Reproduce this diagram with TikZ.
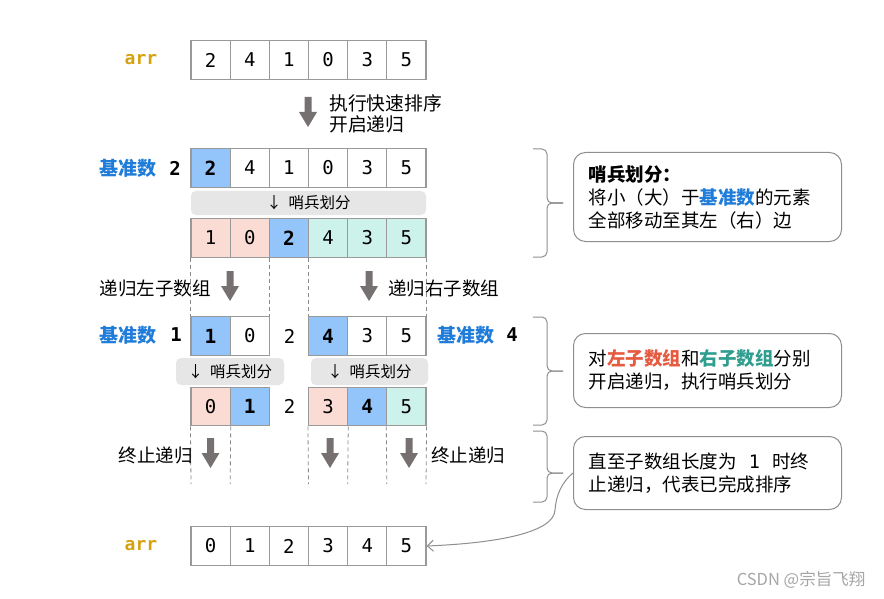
\documentclass[tikz,border=0pt]{standalone}
\usepackage{fontspec}
\setmainfont{Noto Sans CJK SC}
\newfontfamily\monof{DejaVu Sans Mono}
\usetikzlibrary{arrows.meta}
\definecolor{cellgray}{HTML}{999999}
\definecolor{cblue}{HTML}{94C5FA}
\definecolor{cpink}{HTML}{FADCD5}
\definecolor{cteal}{HTML}{CDF1EB}
\definecolor{barg}{HTML}{E6E6E6}
\definecolor{tblue}{HTML}{1F7CD9}
\definecolor{tgold}{HTML}{D5A10F}
\definecolor{tred}{HTML}{E65A40}
\definecolor{tteal}{HTML}{2F9E8F}
\definecolor{agray}{HTML}{767170}
\definecolor{boxg}{HTML}{8F8F8F}
\definecolor{dashg}{HTML}{8A8A8A}
\tikzset{
  cell/.style={draw=cellgray, line width=1.1pt, minimum width=39.17pt, minimum height=38.5pt, inner sep=0pt, anchor=center, font=\monof\fontsize{19}{21}\selectfont},
  pv/.style={cell, fill=cblue, font=\monof\bfseries\fontsize{19.5}{21}\selectfont},
  lo/.style={cell, fill=cpink},
  hi/.style={cell, fill=cteal},
  plain/.style={inner sep=0pt, font=\monof\fontsize{19}{21}\selectfont},
  bar/.style={fill=barg, rounded corners=5pt, inner sep=0pt, font=\fontsize{15.5}{18}\selectfont},
  arrlabel/.style={inner sep=0pt, text=tgold, font=\monof\bfseries\fontsize{18}{20}\selectfont},
  pivlabel/.style={inner sep=0pt, text=tblue, font=\bfseries\fontsize{19}{22}\selectfont},
  pivnum/.style={inner sep=0pt, font=\monof\bfseries\fontsize{19}{21}\selectfont},
  lab/.style={inner sep=0pt, font=\fontsize{18.5}{22}\selectfont},
  dashline/.style={draw=dashg, line width=0.8pt, dash pattern=on 4pt off 3pt},
  brace/.style={draw=boxg, line width=1pt, rounded corners=5pt},
  note/.style={draw=boxg, line width=1pt, rounded corners=12pt, anchor=north west, inner xsep=15pt, inner ysep=0pt, text width=238pt, align=left, font=\fontsize{18.5}{23}\selectfont},
  fatdown/.pic={\fill[agray] (-3.5,-15) -- (3.5,-15) -- (3.5,0) -- (9,0) -- (0,15) -- (-9,0) -- (-3.5,0) -- cycle;}
}
\begin{document}
\begin{tikzpicture}[x=1pt,y=-1pt]
\useasboundingbox (0,0) rectangle (884,599);
\fill[white] (0,0) rectangle (884,599);
% row 1
\node[arrlabel] (arr1) at (141,60) {arr};
\foreach \v [count=\i] in {2,4,1,0,3,5}
  \node[cell] (a\i) at ({191+39.17*(\i-0.5)},60) {\v};
% top arrow
\pic (topar) at (308,112) {fatdown};
\node[lab, anchor=west, align=left, font=\fontsize{18.8}{21.5}\selectfont] (t1) at (329,114) {执行快速排序\\开启递归};
% row 2
\node[pivlabel] (pl2) at (128,168) {基准数};
\node[pivnum] (pn2) at (175,168) {2};
\node[pv] (b1) at ({191+39.17*0.5},168) {2};
\foreach \v [count=\i from 2] in {4,1,0,3,5}
  \node[cell] (b\i) at ({191+39.17*(\i-0.5)},168) {\v};
\node[bar, minimum width=235pt, minimum height=24pt] (bar1) at (308.5,203) {↓\ \ 哨兵划分};
% row 3
\node[lo] (c1) at ({191+39.17*0.5},238) {1};
\node[lo] (c2) at ({191+39.17*1.5},238) {0};
\node[pv] (c3) at ({191+39.17*2.5},238) {2};
\node[hi] (c4) at ({191+39.17*3.5},238) {4};
\node[hi] (c5) at ({191+39.17*4.5},238) {3};
\node[hi] (c6) at ({191+39.17*5.5},238) {5};
% row 4
\node[pv] (d1) at ({191+39.17*0.5},336) {1};
\node[cell] (d2) at ({191+39.17*1.5},336) {0};
\node[plain] (d3) at (289.5,336) {2};
\node[pv] (d4) at ({191+39.17*3.5},336) {4};
\node[cell] (d5) at ({191+39.17*4.5},336) {3};
\node[cell] (d6) at ({191+39.17*5.5},336) {5};
\node[pivlabel] (pl4) at (128,335) {基准数};
\node[pivnum] (pn4) at (176,335) {1};
\node[pivlabel] (pl4r) at (466,335) {基准数};
\node[pivnum] (pn4r) at (512,335) {4};
% dashed lines row3 -> row4
\draw[dashline] (c1.south west) -- (d1.north west);
\draw[dashline] (c2.south east) -- (d2.north east);
\draw[dashline] (c4.south west) -- (d4.north west);
\draw[dashline] (c6.south east) -- (d6.north east);
% arrows between
\pic (lar) at (230,286) {fatdown};
\pic (rar) at (369,286) {fatdown};
\node[lab, anchor=east] (lrec) at (211,288) {递归左子数组};
\node[lab, anchor=west] (rrec) at (388,288) {递归右子数组};
% bars row 4
\node[bar, minimum width=108pt, minimum height=27pt] (bar2) at (230,371.5) {↓\ \ 哨兵划分};
\node[bar, minimum width=117pt, minimum height=27pt] (bar3) at (369.5,371.5) {↓\ \ 哨兵划分};
% row 5
\node[lo] (e1) at ({191+39.17*0.5},406.5) {0};
\node[pv] (e2) at ({191+39.17*1.5},406.5) {1};
\node[plain] (e3) at (289.5,406.5) {2};
\node[lo] (e4) at ({191+39.17*3.5},406.5) {3};
\node[pv] (e5) at ({191+39.17*4.5},406.5) {4};
\node[hi] (e6) at ({191+39.17*5.5},406.5) {5};
% dashed lines below row 5
\coordinate (f1) at (191,484);
\coordinate (f2) at (230.17,484);
\coordinate (f3) at (308.51,484);
\coordinate (f4) at (347.68,484);
\coordinate (f5) at (386.85,484);
\coordinate (f6) at (426.02,484);
\draw[dashline] (e1.south west) -- (f1);
\draw[dashline] (e1.south east) -- (f2);
\draw[dashline] (e4.south west) -- (f3);
\draw[dashline] (e4.south east) -- (f4);
\draw[dashline] (e6.south west) -- (f5);
\draw[dashline] (e6.south east) -- (f6);
\pic (s1) at (210.5,453) {fatdown};
\pic (s2) at (330,453) {fatdown};
\pic (s3) at (409,453) {fatdown};
\node[lab, anchor=east] (stop1) at (193,455) {终止递归};
\node[lab, anchor=west] (stop2) at (431,455) {终止递归};
% final row
\node[arrlabel] (arr2) at (141,546) {arr};
\foreach \v [count=\i] in {0,1,2,3,4,5}
  \node[cell] (g\i) at ({191+39.17*(\i-0.5)},546) {\v};
% braces
\draw[brace] (533,149) -- (547,149) -- (547,203) -- (563,203);
\draw[brace] (533,257) -- (547,257) -- (547,203) -- (563,203);
\draw[brace] (533,317) -- (547,317) -- (547,371) -- (563,371);
\draw[brace] (533,425) -- (547,425) -- (547,371) -- (563,371);
\draw[brace] (533,431) -- (547,431) -- (547,473) -- (563,473);
\draw[brace] (533,502) -- (547,502) -- (547,473) -- (563,473);
% notes
\node[note, minimum height=89pt] (n1) at (573,152) {\textbf{哨兵划分：}\\将小（大）于\textcolor{tblue}{\textbf{基准数}}的元素\\全部移动至其左（右）边};
\node[note, minimum height=74pt] (n2) at (573,333) {对\textcolor{tred}{\textbf{左子数组}}和\textcolor{tteal}{\textbf{右子数组}}分别\\开启递归，执行哨兵划分};
\node[note, minimum height=73pt] (n3) at (573,436) {直至子数组长度为\ \ {\monof 1}\ \ 时终\\止递归，代表已完成排序};
% curved arrow
\draw[draw=boxg, line width=1pt, -{Straight Barb[length=6pt,width=11pt]}] (n3.west) .. controls (562,482) and (556,495) .. (555,510) .. controls (554,532) and (500,543) .. (g6.east);
% watermark
\node[inner sep=0pt, text=gray!70, font=\fontsize{16.5}{18}\selectfont] (wm) at (801,580) {CSDN @宗旨飞翔};
\end{tikzpicture}
\end{document}
